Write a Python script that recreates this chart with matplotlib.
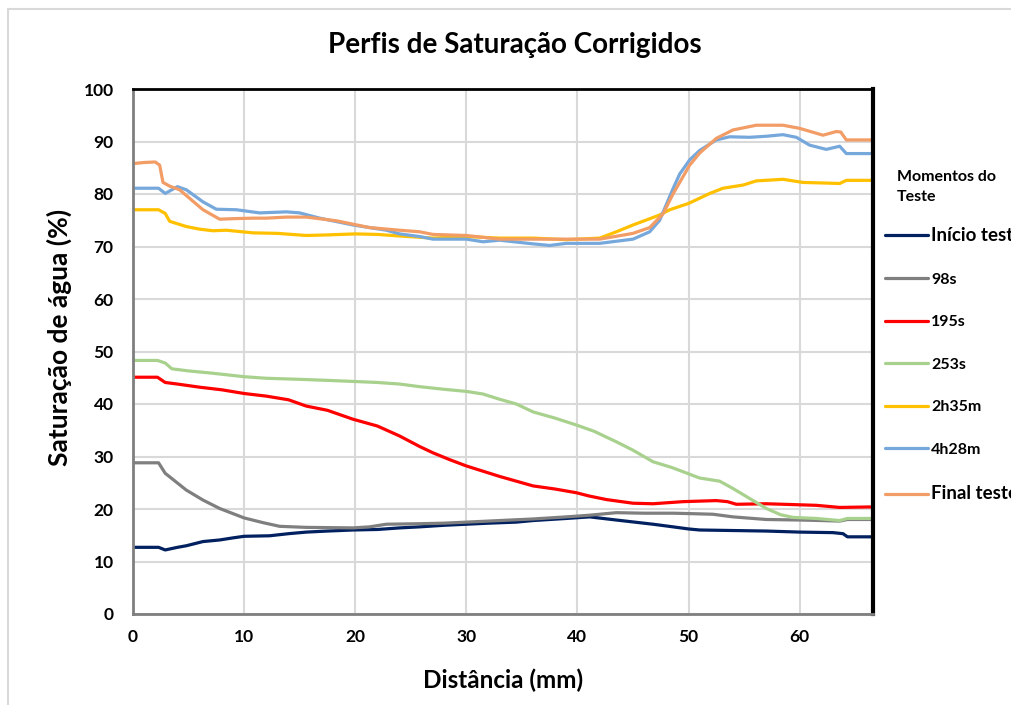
import matplotlib.pyplot as plt
from matplotlib.patches import Rectangle

# distance (mm) and water saturation (%) for each moment of the test
x_inicio = [0, 2.3, 2.9, 4, 4.8, 6.3, 7.8, 9, 10, 12.3, 14, 15.6, 17.5, 19.8, 22, 24, 25.8, 28, 30, 32,
            34.5, 36, 39, 41.1, 43.5, 46.8, 48.6, 50, 51, 54, 57, 60, 63, 63.9, 64.3, 66.6]
y_inicio = [12.7, 12.7, 12.2, 12.7, 13.0, 13.8, 14.1, 14.5, 14.8, 14.9, 15.3, 15.6, 15.8, 16.0, 16.1, 16.4,
            16.6, 16.9, 17.1, 17.3, 17.5, 17.8, 18.2, 18.5, 17.9, 17.1, 16.6, 16.2, 16.0, 15.9, 15.8, 15.6,
            15.5, 15.3, 14.7, 14.7]

x_98s = [0, 2.3, 2.9, 4.8, 6.3, 7.8, 10, 11.7, 13.2, 15.6, 19.8, 21.3, 22.8, 25.8, 28, 30, 33, 36, 39, 41,
         43.5, 46, 48.6, 50.5, 52.2, 54, 57, 60, 62, 63.6, 64.3, 66.6]
y_98s = [28.8, 28.8, 26.8, 23.6, 21.7, 20.1, 18.3, 17.4, 16.7, 16.5, 16.4, 16.6, 17.1, 17.2, 17.3, 17.5,
         17.8, 18.1, 18.5, 18.8, 19.3, 19.2, 19.2, 19.1, 19.0, 18.5, 18.0, 17.9, 17.8, 17.7, 18.0, 18.0]

x_195s = [0, 2.2, 2.9, 4, 6, 8, 10, 12, 14, 15.6, 17.5, 19.8, 22, 24, 25.8, 27, 28.5, 30, 33, 36, 38,
          39.9, 41, 42.6, 45, 46.8, 49.5, 52.5, 53.5, 54.3, 57, 60, 61.5, 63.6, 66.6]
y_195s = [45.1, 45.1, 44.1, 43.8, 43.2, 42.7, 42.0, 41.5, 40.8, 39.6, 38.8, 37.1, 35.8, 33.9, 31.9, 30.7,
          29.4, 28.2, 26.2, 24.4, 23.8, 23.1, 22.5, 21.8, 21.1, 21.0, 21.4, 21.6, 21.4, 20.9, 21.0, 20.8,
          20.7, 20.3, 20.4]

x_253s = [0, 2.2, 2.9, 3.5, 5, 7, 10, 12, 15, 17.5, 19.8, 22, 24, 25.8, 28, 30, 31.5, 33, 34.5, 36, 38,
          39.9, 41.5, 43.5, 45, 46.8, 48.5, 51, 52.8, 54, 55.5, 57, 58.3, 59.4, 61.5, 63.6, 64.3, 66.6]
y_253s = [48.3, 48.3, 47.8, 46.7, 46.3, 45.9, 45.2, 44.9, 44.7, 44.5, 44.3, 44.1, 43.8, 43.3, 42.8, 42.4,
          41.9, 40.9, 40.0, 38.5, 37.3, 36.0, 34.8, 32.8, 31.2, 29.0, 27.9, 25.9, 25.3, 23.9, 22.0, 20.1,
          18.9, 18.4, 18.2, 17.8, 18.2, 18.2]

x_2h35m = [0, 2.3, 2.9, 3.3, 4.8, 6, 7.2, 8.4, 10.8, 13, 15.6, 17.4, 20, 22, 24, 27, 30, 33, 36, 39, 42,
           43.5, 45, 47.4, 48.3, 50, 51, 51.9, 53.1, 54.9, 56.1, 58.5, 60.3, 62.1, 63.6, 64.2, 66.6]
y_2h35m = [77.0, 77.0, 76.3, 74.8, 73.8, 73.3, 73.0, 73.1, 72.6, 72.5, 72.1, 72.2, 72.4, 72.3, 72.0, 71.6,
           71.9, 71.6, 71.6, 71.3, 71.6, 72.8, 74.1, 76.0, 77.0, 78.2, 79.2, 80.1, 81.1, 81.7, 82.5, 82.8,
           82.2, 82.1, 82.0, 82.6, 82.6]

x_4h28m = [0, 2.3, 2.9, 4.0, 4.8, 6.3, 7.5, 9.3, 11.4, 13.8, 15, 16.8, 19.8, 22.8, 24, 25.8, 27, 30, 31.5,
           33, 36, 37.5, 39, 42, 45, 46.5, 47.4, 48.0, 48.6, 49.2, 50.1, 51, 52.5, 53.7, 55.5, 57, 58.5,
           59.7, 60.9, 62.4, 63.6, 64.2, 66.6]
y_4h28m = [81.1, 81.1, 80.1, 81.4, 80.8, 78.5, 77.1, 77.0, 76.4, 76.6, 76.4, 75.4, 74.1, 73.1, 72.4, 71.9,
           71.4, 71.4, 70.9, 71.2, 70.5, 70.2, 70.6, 70.6, 71.4, 72.8, 75.0, 78.0, 81.0, 83.8, 86.5, 88.3,
           90.3, 90.9, 90.8, 91.0, 91.3, 90.8, 89.3, 88.5, 89.1, 87.7, 87.7]

x_final = [0, 1, 2, 2.4, 2.7, 3.3, 4.2, 5.3, 6.3, 7.8, 9, 10.8, 12, 13.8, 15.6, 18.3, 21.3, 24, 25.8, 27,
           30, 33, 36, 39, 42, 45, 46.5, 47.7, 48.6, 50.1, 51, 52.5, 54, 56.1, 58.5, 60, 62.1, 63.3,
           63.7, 64.2, 66.6]
y_final = [85.8, 86.0, 86.1, 85.5, 82.2, 81.5, 80.8, 78.8, 77.0, 75.2, 75.3, 75.4, 75.4, 75.6, 75.6, 74.9,
           73.6, 73.1, 72.8, 72.3, 72.1, 71.4, 71.4, 71.4, 71.4, 72.5, 73.6, 76.2, 80.0, 85.5, 87.8, 90.6,
           92.2, 93.1, 93.1, 92.5, 91.2, 91.9, 91.8, 90.3, 90.3]

labels = ["Início teste", "98s", "195s", "253s", "2h35m", "4h28m", "Final teste"]
colors = ["#002060", "#7F7F7F", "#FF0000", "#A9D18E", "#FFC000", "#76A8DC", "#F29C66"]
series = [(x_inicio, y_inicio), (x_98s, y_98s), (x_195s, y_195s), (x_253s, y_253s),
          (x_2h35m, y_2h35m), (x_4h28m, y_4h28m), (x_final, y_final)]

plt.rcParams['font.family'] = ['Lato', 'DejaVu Sans']

fig = plt.figure(figsize=(10.12, 7.05), dpi=100)
ax = fig.add_axes([133 / 1012, 91 / 705, 740 / 1012, 525 / 705])

# light chart-area border
fig.patches.append(Rectangle((8 / 1012, -0.1), 1.2, 1.1 - 9 / 705, transform=fig.transFigure,
                             fill=False, edgecolor="#D9D9D9", linewidth=1.5))

for (xs, ys), lab, c in zip(series, labels, colors):
    ax.plot(xs, ys, color=c, linewidth=2.3, label=lab, solid_capstyle='round')

ax.set_xlim(0, 66.6)
ax.set_ylim(0, 100)
ax.set_xticks(range(0, 61, 10))
ax.set_yticks(range(0, 101, 10))
ax.grid(True, color="#D9D9D9", linewidth=1.5)
ax.set_axisbelow(True)
ax.tick_params(length=0, labelsize=12.5)
ax.tick_params(axis='y', pad=14)
ax.tick_params(axis='x', pad=11)
for t in ax.get_xticklabels() + ax.get_yticklabels():
    t.set_fontweight('bold')

ax.spines['left'].set_color("#7F7F7F")
ax.spines['bottom'].set_color("#7F7F7F")
ax.spines['left'].set_linewidth(2)
ax.spines['bottom'].set_linewidth(2)
ax.spines['top'].set_color("black")
ax.spines['top'].set_linewidth(2)
ax.spines['right'].set_color("black")
ax.spines['right'].set_linewidth(3)

fig.text(515 / 1012, 1 - 45 / 705, "Perfis de Saturação Corrigidos", fontsize=20, fontweight='bold',
         ha='center', va='center')
ax.set_xlabel("Distância (mm)", fontsize=17.5, fontweight='bold')
ax.set_ylabel("Saturação de água (%)", fontsize=19, fontweight='bold')
ax.xaxis.set_label_coords(0.5, -0.103)
ax.yaxis.set_label_coords(-0.082, 0.526)

fig.text(897 / 1012, 1 - 187 / 705, "Momentos do\nTeste", fontsize=11.5, fontweight='bold',
         va='center', ha='left', linespacing=1.5)
leg = ax.legend(loc='upper left', bbox_to_anchor=(885 / 1012, 1 - 227 / 705), bbox_transform=fig.transFigure,
                frameon=False, fontsize=11.5, labelspacing=1.78, handlelength=2.7, handletextpad=0.2,
                borderaxespad=0, borderpad=0)
for t in leg.get_texts():
    t.set_fontweight('bold')
    if "teste" in t.get_text():
        t.set_fontsize(13.5)

fig.savefig("out.png", dpi=100)
